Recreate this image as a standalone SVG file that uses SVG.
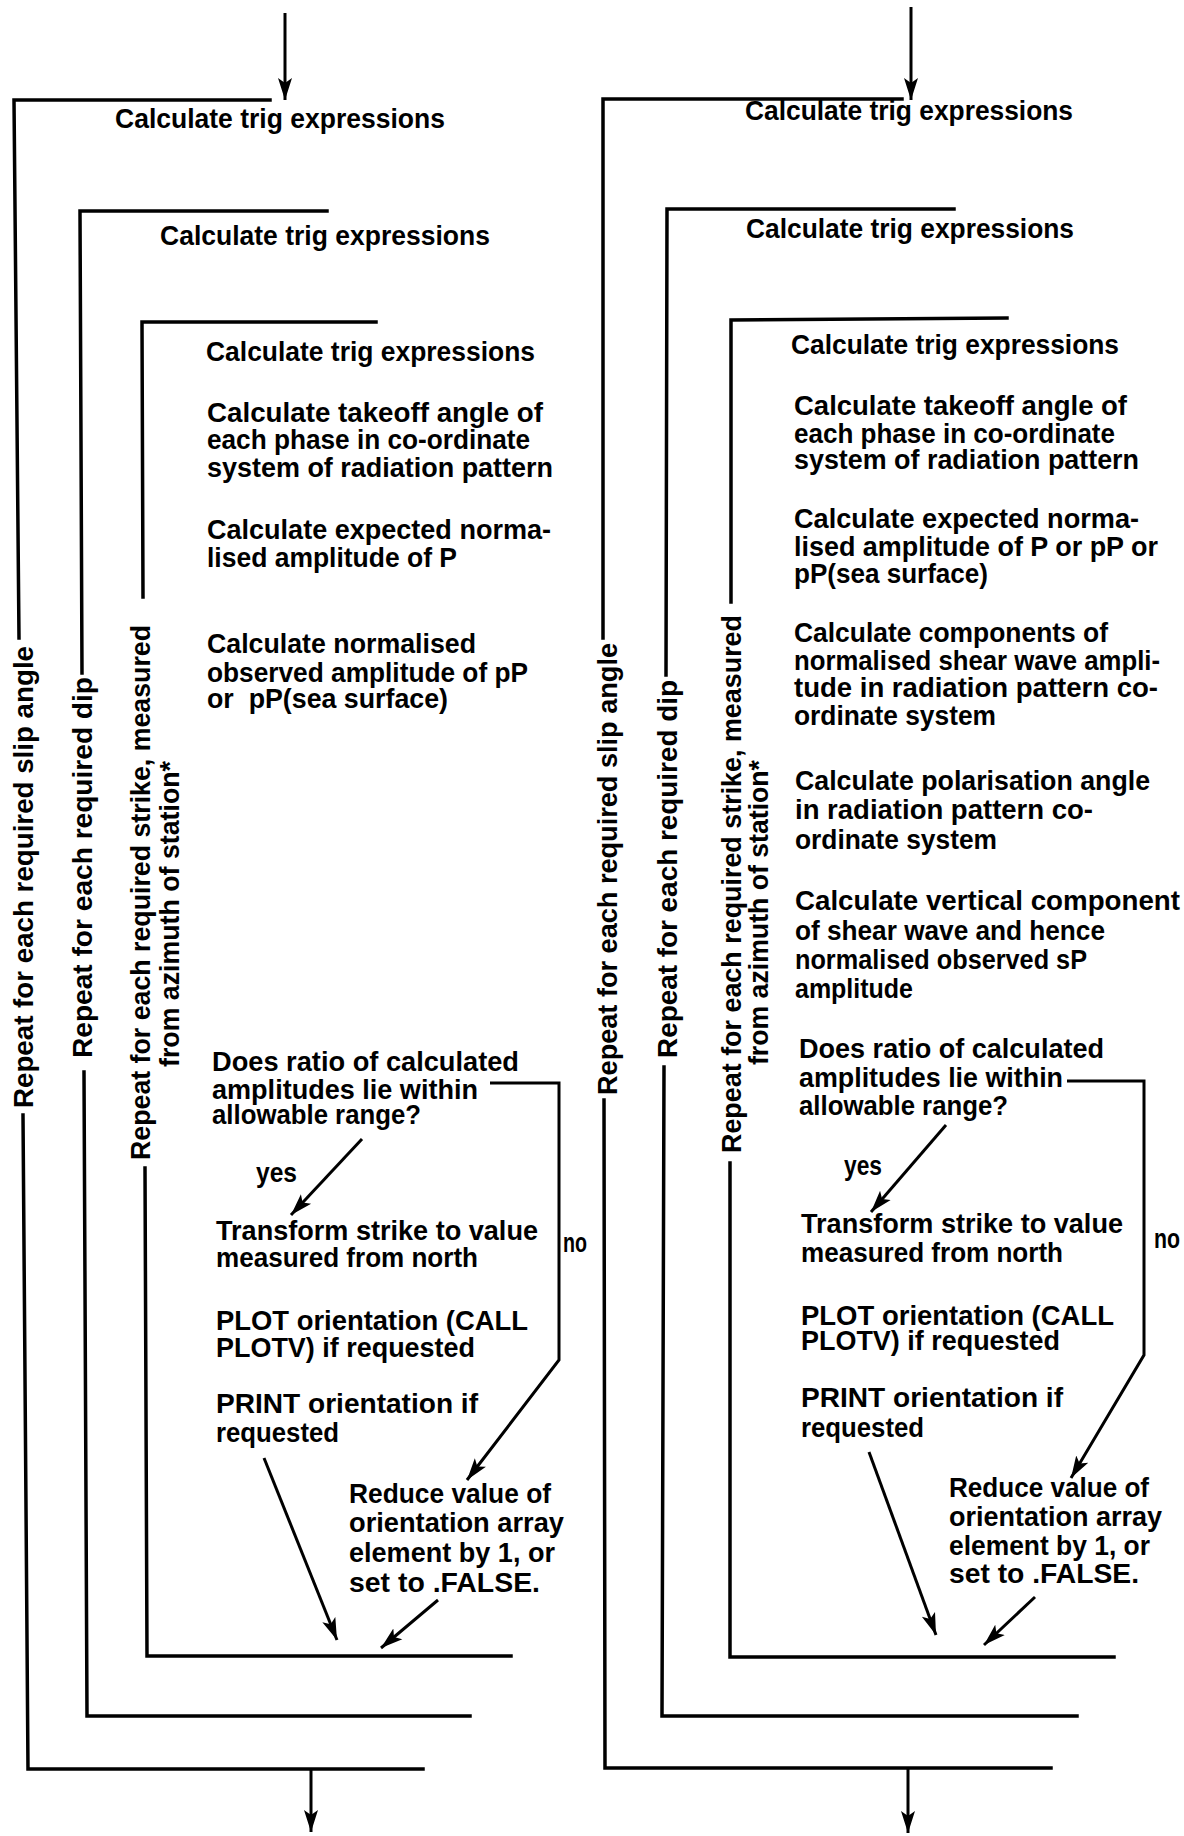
<svg xmlns="http://www.w3.org/2000/svg" width="1184" height="1836" viewBox="0 0 1184 1836">
  <style>
    .t { font-family: "Liberation Sans", Arial, sans-serif; font-size: 28px; font-weight: bold; fill: #000; }
    .br { fill: none; stroke: #000; stroke-width: 3.5; stroke-linecap: square; stroke-linejoin: miter; }
    .ar { fill: none; stroke: #000; stroke-width: 3; marker-end: url(#ah); }
  </style>
  <defs>
    <marker id="ah" markerUnits="userSpaceOnUse" markerWidth="26" markerHeight="18" refX="22" refY="8" orient="auto">
      <path d="M0,1 L22,8 L0,15 L5,8 Z" fill="#000"/>
    </marker>
  </defs>
  <rect width="1184" height="1836" fill="#fff"/>

  <!-- loop brackets, flow arrows and the yes/no branches -->
  <g id="connectors">
    <!-- left chart: slip angle / dip / strike loops -->
    <path class="br" d="M270,100 L14,100 L19,638 M23,1115 L28,1769 L423,1769"/>
    <path class="br" d="M327,211 L80,211 L82,673 M84,1072 L87,1716 L470,1716"/>
    <path class="br" d="M376,322 L142,322 L143,597 M145,1168 L147,1656 L511,1656"/>
    <path class="ar" d="M285,13 L285,100"/>
    <path class="ar" d="M311,1769 L311,1832"/>
    <path class="ar" d="M362,1139 L291,1215"/>
    <path class="ar" d="M490,1083 L559,1083 L559,1360 L467,1480"/>
    <path class="ar" d="M264,1458 L337,1640"/>
    <path class="ar" d="M438,1600 L381,1648"/>

    <!-- right chart: slip angle / dip / strike loops -->
    <path class="br" d="M902,99 L603,99 L603,638 M604,1100 L605,1768 L1051,1768"/>
    <path class="br" d="M954,209 L667,209 L666,675 M664,1067 L662,1716 L1077,1716"/>
    <path class="br" d="M1007,318 L731,320 L731,602 M730,1163 L730,1657 L1114,1657"/>
    <path class="ar" d="M911,7 L911,100"/>
    <path class="ar" d="M908,1768 L908,1833"/>
    <path class="ar" d="M946,1125 L871,1212"/>
    <path class="ar" d="M1067,1081 L1144,1081 L1144,1355 L1071,1478"/>
    <path class="ar" d="M869,1452 L936,1635"/>
    <path class="ar" d="M1035,1597 L984,1645"/>
  </g>

  <!-- ===== left chart ===== -->
  <g id="left-loop-labels">
    <text class="t" transform="translate(33,1108) rotate(-90)" textLength="462" lengthAdjust="spacingAndGlyphs">Repeat for each required slip angle</text>
    <text class="t" transform="translate(92,1058) rotate(-90)" textLength="381" lengthAdjust="spacingAndGlyphs">Repeat for each required dip</text>
    <text class="t" transform="translate(150,1160) rotate(-90)" textLength="535" lengthAdjust="spacingAndGlyphs">Repeat for each required strike, measured</text>
    <text class="t" transform="translate(179,1067) rotate(-90)" textLength="306" lengthAdjust="spacingAndGlyphs">from azimuth of station*</text>
  </g>
  <g id="left-trig-1"><text class="t" x="115" y="128" textLength="330" lengthAdjust="spacingAndGlyphs">Calculate trig expressions</text></g>
  <g id="left-trig-2"><text class="t" x="160" y="245" textLength="330" lengthAdjust="spacingAndGlyphs">Calculate trig expressions</text></g>
  <g id="left-trig-3"><text class="t" x="206" y="361" textLength="329" lengthAdjust="spacingAndGlyphs">Calculate trig expressions</text></g>
  <g id="left-takeoff">
    <text class="t" x="207" y="422" textLength="336" lengthAdjust="spacingAndGlyphs">Calculate takeoff angle of</text>
    <text class="t" x="207" y="449" textLength="323" lengthAdjust="spacingAndGlyphs">each phase in co-ordinate</text>
    <text class="t" x="207" y="477" textLength="346" lengthAdjust="spacingAndGlyphs">system of radiation pattern</text>
  </g>
  <g id="left-expected">
    <text class="t" x="207" y="539" textLength="344" lengthAdjust="spacingAndGlyphs">Calculate expected norma-</text>
    <text class="t" x="207" y="567" textLength="250" lengthAdjust="spacingAndGlyphs">lised amplitude of P</text>
  </g>
  <g id="left-observed">
    <text class="t" x="207" y="653" textLength="269" lengthAdjust="spacingAndGlyphs">Calculate normalised</text>
    <text class="t" x="207" y="682" textLength="321" lengthAdjust="spacingAndGlyphs">observed amplitude of pP</text>
    <text class="t" x="207" y="708" textLength="241" lengthAdjust="spacingAndGlyphs">or&#160; pP(sea surface)</text>
  </g>
  <g id="left-ratio">
    <text class="t" x="212" y="1071" textLength="307" lengthAdjust="spacingAndGlyphs">Does ratio of calculated</text>
    <text class="t" x="212" y="1099" textLength="266" lengthAdjust="spacingAndGlyphs">amplitudes lie within</text>
    <text class="t" x="212" y="1124" textLength="209" lengthAdjust="spacingAndGlyphs">allowable range?</text>
  </g>
  <g id="left-yes"><text class="t" x="256" y="1182" textLength="41" lengthAdjust="spacingAndGlyphs">yes</text></g>
  <g id="left-no"><text class="t" x="563" y="1252" textLength="24" lengthAdjust="spacingAndGlyphs">no</text></g>
  <g id="left-transform">
    <text class="t" x="216" y="1240" textLength="322" lengthAdjust="spacingAndGlyphs">Transform strike to value</text>
    <text class="t" x="216" y="1267" textLength="262" lengthAdjust="spacingAndGlyphs">measured from north</text>
  </g>
  <g id="left-plot">
    <text class="t" x="216" y="1330" textLength="312" lengthAdjust="spacingAndGlyphs">PLOT orientation (CALL</text>
    <text class="t" x="216" y="1357" textLength="259" lengthAdjust="spacingAndGlyphs">PLOTV) if requested</text>
  </g>
  <g id="left-print">
    <text class="t" x="216" y="1413" textLength="262" lengthAdjust="spacingAndGlyphs">PRINT orientation if</text>
    <text class="t" x="216" y="1442" textLength="123" lengthAdjust="spacingAndGlyphs">requested</text>
  </g>
  <g id="left-reduce">
    <text class="t" x="349" y="1503" textLength="202" lengthAdjust="spacingAndGlyphs">Reduce value of</text>
    <text class="t" x="349" y="1532" textLength="215" lengthAdjust="spacingAndGlyphs">orientation array</text>
    <text class="t" x="349" y="1562" textLength="206" lengthAdjust="spacingAndGlyphs">element by 1, or</text>
    <text class="t" x="349" y="1592" textLength="191" lengthAdjust="spacingAndGlyphs">set to .FALSE.</text>
  </g>

  <!-- ===== right chart ===== -->
  <g id="right-loop-labels">
    <text class="t" transform="translate(617,1095) rotate(-90)" textLength="452" lengthAdjust="spacingAndGlyphs">Repeat for each required slip angle</text>
    <text class="t" transform="translate(677,1058) rotate(-90)" textLength="378" lengthAdjust="spacingAndGlyphs">Repeat for each required dip</text>
    <text class="t" transform="translate(741,1153) rotate(-90)" textLength="538" lengthAdjust="spacingAndGlyphs">Repeat for each required strike, measured</text>
    <text class="t" transform="translate(768,1065) rotate(-90)" textLength="305" lengthAdjust="spacingAndGlyphs">from azimuth of station*</text>
  </g>
  <g id="right-trig-1"><text class="t" x="745" y="120" textLength="328" lengthAdjust="spacingAndGlyphs">Calculate trig expressions</text></g>
  <g id="right-trig-2"><text class="t" x="746" y="238" textLength="328" lengthAdjust="spacingAndGlyphs">Calculate trig expressions</text></g>
  <g id="right-trig-3"><text class="t" x="791" y="354" textLength="328" lengthAdjust="spacingAndGlyphs">Calculate trig expressions</text></g>
  <g id="right-takeoff">
    <text class="t" x="794" y="415" textLength="333" lengthAdjust="spacingAndGlyphs">Calculate takeoff angle of</text>
    <text class="t" x="794" y="443" textLength="321" lengthAdjust="spacingAndGlyphs">each phase in co-ordinate</text>
    <text class="t" x="794" y="469" textLength="345" lengthAdjust="spacingAndGlyphs">system of radiation pattern</text>
  </g>
  <g id="right-expected">
    <text class="t" x="794" y="528" textLength="345" lengthAdjust="spacingAndGlyphs">Calculate expected norma-</text>
    <text class="t" x="794" y="556" textLength="364" lengthAdjust="spacingAndGlyphs">lised amplitude of P or pP or</text>
    <text class="t" x="794" y="583" textLength="194" lengthAdjust="spacingAndGlyphs">pP(sea surface)</text>
  </g>
  <g id="right-components">
    <text class="t" x="794" y="642" textLength="314" lengthAdjust="spacingAndGlyphs">Calculate components of</text>
    <text class="t" x="794" y="670" textLength="366" lengthAdjust="spacingAndGlyphs">normalised shear wave ampli-</text>
    <text class="t" x="794" y="697" textLength="364" lengthAdjust="spacingAndGlyphs">tude in radiation pattern co-</text>
    <text class="t" x="794" y="725" textLength="202" lengthAdjust="spacingAndGlyphs">ordinate system</text>
  </g>
  <g id="right-polarisation">
    <text class="t" x="795" y="790" textLength="355" lengthAdjust="spacingAndGlyphs">Calculate polarisation angle</text>
    <text class="t" x="795" y="819" textLength="298" lengthAdjust="spacingAndGlyphs">in radiation pattern co-</text>
    <text class="t" x="795" y="849" textLength="202" lengthAdjust="spacingAndGlyphs">ordinate system</text>
  </g>
  <g id="right-vertical">
    <text class="t" x="795" y="910" textLength="385" lengthAdjust="spacingAndGlyphs">Calculate vertical component</text>
    <text class="t" x="795" y="940" textLength="310" lengthAdjust="spacingAndGlyphs">of shear wave and hence</text>
    <text class="t" x="795" y="969" textLength="292" lengthAdjust="spacingAndGlyphs">normalised observed sP</text>
    <text class="t" x="795" y="998" textLength="118" lengthAdjust="spacingAndGlyphs">amplitude</text>
  </g>
  <g id="right-ratio">
    <text class="t" x="799" y="1058" textLength="305" lengthAdjust="spacingAndGlyphs">Does ratio of calculated</text>
    <text class="t" x="799" y="1087" textLength="264" lengthAdjust="spacingAndGlyphs">amplitudes lie within</text>
    <text class="t" x="799" y="1115" textLength="209" lengthAdjust="spacingAndGlyphs">allowable range?</text>
  </g>
  <g id="right-yes"><text class="t" x="844" y="1175" textLength="38" lengthAdjust="spacingAndGlyphs">yes</text></g>
  <g id="right-no"><text class="t" x="1154" y="1248" textLength="26" lengthAdjust="spacingAndGlyphs">no</text></g>
  <g id="right-transform">
    <text class="t" x="801" y="1233" textLength="322" lengthAdjust="spacingAndGlyphs">Transform strike to value</text>
    <text class="t" x="801" y="1262" textLength="262" lengthAdjust="spacingAndGlyphs">measured from north</text>
  </g>
  <g id="right-plot">
    <text class="t" x="801" y="1325" textLength="313" lengthAdjust="spacingAndGlyphs">PLOT orientation (CALL</text>
    <text class="t" x="801" y="1350" textLength="259" lengthAdjust="spacingAndGlyphs">PLOTV) if requested</text>
  </g>
  <g id="right-print">
    <text class="t" x="801" y="1407" textLength="262" lengthAdjust="spacingAndGlyphs">PRINT orientation if</text>
    <text class="t" x="801" y="1437" textLength="123" lengthAdjust="spacingAndGlyphs">requested</text>
  </g>
  <g id="right-reduce">
    <text class="t" x="949" y="1497" textLength="200" lengthAdjust="spacingAndGlyphs">Reduce value of</text>
    <text class="t" x="949" y="1526" textLength="213" lengthAdjust="spacingAndGlyphs">orientation array</text>
    <text class="t" x="949" y="1555" textLength="201" lengthAdjust="spacingAndGlyphs">element by 1, or</text>
    <text class="t" x="949" y="1583" textLength="190" lengthAdjust="spacingAndGlyphs">set to .FALSE.</text>
  </g>
</svg>
